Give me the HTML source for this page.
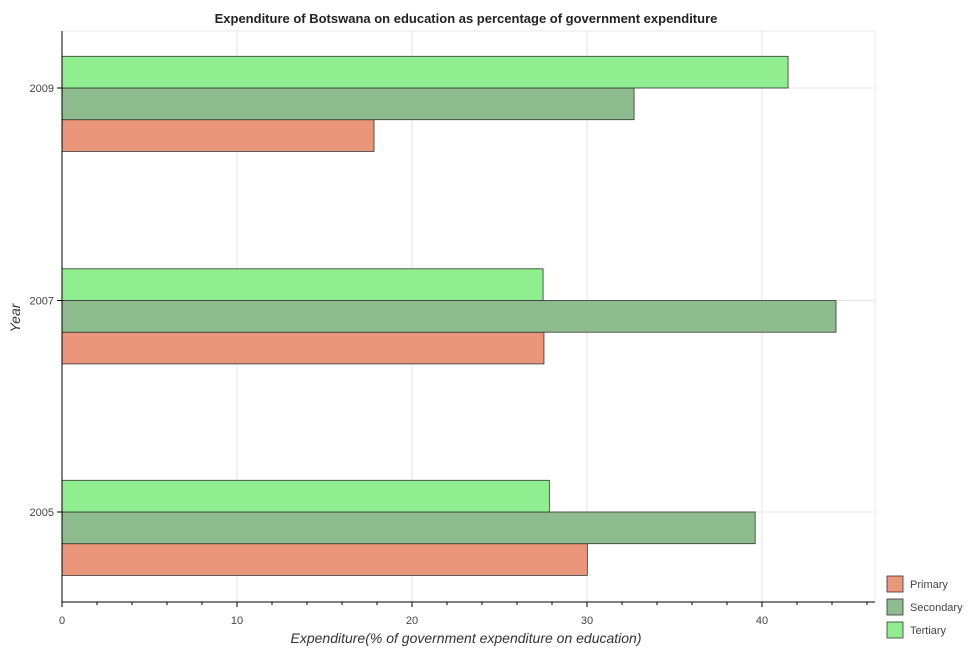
<!DOCTYPE html>
<html><head><meta charset="utf-8"><style>
body{margin:0;background:#fff;font-family:"Liberation Sans",sans-serif}
</style></head><body>
<svg id="c" width="972" height="650" xmlns="http://www.w3.org/2000/svg" style="font-family:'Liberation Sans',sans-serif"></svg>
<script>
const years=["2005","2007","2009"];
const primary=[30.02,27.54,17.83];
const secondary=[39.61,44.23,32.69];
const tertiary=[27.85,27.49,41.49];
const xTicks=[0,10,20,30,40];
const seriesNames=["Primary","Secondary","Tertiary"];
const colors=["#e9967a","#8fbc8f","#90ee90"];
const X0=62,PX=17.5,TOP=31,BOT=602,RIGHT=875;
const yTick={"2009":88,"2007":300.5,"2005":512};
const BH=31.7;
const sx=v=>X0+v*PX;
const svg=document.getElementById('c');
const NS="http://www.w3.org/2000/svg";
function mk(t,a,txt){const e=document.createElementNS(NS,t);for(const k in a)e.setAttribute(k,a[k]);if(txt!==undefined)e.textContent=txt;svg.appendChild(e);return e;}
let e;
e=mk('text',{x:466,y:23,'text-anchor':'middle','font-size':13,'font-weight':'bold',fill:'#222'},'Expenditure of Botswana on education as percentage of government expenditure');


e=mk('rect',{x:X0,y:TOP,width:RIGHT-X0,height:BOT-TOP,fill:'none',stroke:'#e8e8e8'});


xTicks.forEach(t=>{
 e=mk('line',{x1:sx(t),x2:sx(t),y1:TOP,y2:BOT,stroke:'#e3e3e3'});
 
 
 e=mk('text',{x:sx(t),y:624,'text-anchor':'middle','font-size':11,fill:'#444'},String(t));
 
 
});
for(let v=0;v<=46;v+=2){
 e=mk('line',{x1:sx(v),x2:sx(v),y1:BOT,y2:BOT+(v%10==0?5:3),stroke:'#000'});
 
 
}
years.forEach(y=>{
 e=mk('line',{x1:X0,x2:RIGHT,y1:yTick[y],y2:yTick[y],stroke:'#e3e3e3'});
 
 
});
const series=[primary,secondary,tertiary];
years.forEach((y,i)=>{
 const c=yTick[y];
 const offs=[BH,0,-BH];
 series.forEach((s,j)=>{
  e=mk('rect',{x:X0,y:c+offs[j],width:sx(s[i])-X0,height:BH,fill:colors[j],stroke:'#333','stroke-width':0.8});
  
  
 });
 e=mk('line',{x1:X0-5,x2:X0,y1:c,y2:c,stroke:'#000'});
 
 
 e=mk('text',{x:X0-8,y:c+4,'text-anchor':'end','font-size':11,fill:'#444'},y);
 
 
});
e=mk('line',{x1:X0,x2:X0,y1:TOP,y2:BOT,stroke:'#000'});


e=mk('line',{x1:X0,x2:RIGHT,y1:BOT,y2:BOT,stroke:'#000'});


e=mk('text',{x:466,y:643,'text-anchor':'middle','font-size':14,'font-style':'italic',fill:'#333'},'Expenditure(% of government expenditure on education)');


e=mk('text',{x:0,y:0,'text-anchor':'middle','font-size':14,'font-style':'italic',fill:'#333',transform:'translate(20,318) rotate(-90)'},'Year');


seriesNames.forEach((n,j)=>{
 const cy=584+j*23;
 e=mk('rect',{x:887,y:cy-8,width:16,height:16,fill:colors[j],stroke:'#333','stroke-width':0.8});
 
 
 e=mk('text',{x:910,y:cy+4,'font-size':11,fill:'#444'},n);
 
 
});
</script>
</body></html>
